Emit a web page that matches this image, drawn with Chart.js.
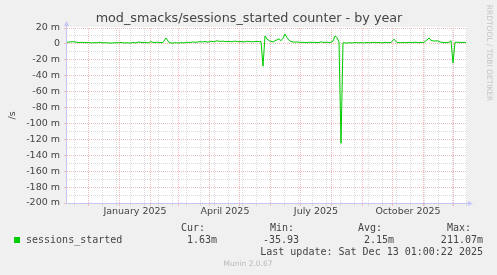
<!DOCTYPE html>
<html>
<head>
<meta charset="utf-8">
<script src="https://cdn.jsdelivr.net/npm/chart.js@4"></script>
<style>
    html, body { margin: 0; padding: 0; background: #f0f0f0; }
</style>
</head>
<body>
<canvas id="chart" width="497" height="275"></canvas>
<script>
// first day shown on the left edge of the graph
const startDate = '2024-11-10';

// day offsets from startDate, and the averaged rate in milli-sessions per second
const days = [0, 3, 6, 9, 12, 15, 18, 21, 24, 27, 30, 33, 36, 39, 42, 45, 48, 51, 54, 57,
    60, 63, 66, 69, 72, 75, 78, 81, 84, 87, 90, 93, 96, 99, 102, 105, 108, 111, 114, 117,
    120, 123, 126, 129, 132, 135, 138, 141, 144, 147, 150, 153, 156, 159, 162, 165, 168, 171, 174, 177,
    180, 183, 186, 189, 192, 194, 196, 198, 200, 203, 206, 209, 212, 214, 216, 218, 220, 222, 224, 227,
    230, 233, 236, 239, 242, 245, 248, 251, 254, 257, 260, 263, 266, 268, 270, 272, 274, 276, 279, 282,
    285, 288, 291, 294, 297, 300, 303, 306, 309, 312, 315, 318, 321, 324, 327, 330, 333, 336, 339, 342,
    345, 348, 351, 354, 357, 360, 362, 364, 367, 370, 373, 376, 379, 382, 384, 386, 388, 391, 394, 397, 399];
const values = [2.0, 2.5, 2.8, 2.2, 1.8, 2.0, 1.5, 1.8, 1.2, 1.6, 1.4, 2.0, 1.3, 1.5, 1.2, 1.0, 1.5, 1.4, 1.8, 1.2,
    1.5, 1.0, 1.8, 1.3, 2.5, 1.5, 2.0, 1.2, 2.8, 1.5, 2.2, 1.6, 1.8, 7.5, 1.8, 1.0, 1.4, 1.2, 1.6, 1.3,
    2.0, 1.8, 2.5, 2.0, 2.8, 2.5, 3.0, 2.2, 3.5, 2.6, 4.0, 3.0, 3.5, 2.8, 3.2, 2.6, 3.6, 2.8, 3.0, 2.5,
    3.4, 3.0, 2.6, 3.2, 2.8, 3.0, -28, 10, 6, 3.5, 2.5, 4.5, 6.5, 4.0, 7.0, 12.5, 8.0, 4.5, 3.0, 2.2,
    2.5, 1.8, 2.0, 1.5, 2.2, 1.8, 2.0, 1.6, 2.5, 1.8, 2.2, 1.5, 3.5, 10, 8, 2.0, -125, 1.5, 1.0, 1.5,
    1.2, 1.8, 1.3, 1.6, 1.2, 1.8, 1.4, 2.0, 1.5, 1.8, 1.3, 2.0, 1.5, 1.8, 6.0, 1.8, 1.4, 1.8, 1.5, 2.0,
    1.6, 2.2, 1.5, 1.8, 2.0, 5.0, 7.5, 4.5, 3.5, 4.0, 2.5, 1.8, 1.5, 2.0, 4.0, -24, 2.0, 2.2, 1.8, 2.0, 1.6];

// x axis: month boundaries (major grid), fortnight lines (minor grid) and labels
const monthStarts = ['2024-12-01', '2025-01-01', '2025-02-01', '2025-03-01', '2025-04-01', '2025-05-01',
    '2025-06-01', '2025-07-01', '2025-08-01', '2025-09-01', '2025-10-01', '2025-11-01', '2025-12-01'];
const fortnightStart = '2024-11-17';
const labelDates = ['2025-01-17', '2025-04-17', '2025-07-17', '2025-10-17'];
const labelTexts = ['January 2025', 'April 2025', 'July 2025', 'October 2025'];

// y axis, in m (milli)
const yMajorTicks = [20, 0, -20, -40, -60, -80, -100, -120, -140, -160, -180, -200];
const yMinorTicks = [10, -10, -30, -50, -70, -90, -110, -130, -150, -170, -190];

const title = 'mod_smacks/sessions_started counter - by year';
const legendName = 'sessions_started';
const legendHeads = ['Cur:', 'Min:', 'Avg:', 'Max:'];
const legendValues = ['1.63m', '-35.93', '2.15m', '211.07m'];
const lastUpdate = 'Last update: Sat Dec 13 01:00:22 2025';

const MAJOR = '#efbcbc';
const MINOR = '#dadada';
const AXIS = '#c6c6f6';
const TEXT = '#444';

const dayOf = s => {
    const [a, b] = [s, startDate].map(d => {
        const p = d.split('-').map(Number);
        return Date.UTC(p[0], p[1] - 1, p[2]);
    });
    return (a - b) / 86400000;
};
const span = 400;
const fortnights = [];
for (let d = dayOf(fortnightStart); d < span; d += 14) fortnights.push(d);

const gridAxis = (ticks, color) => ({
    type: 'linear',
    min: 0,
    max: span,
    position: 'bottom',
    afterFit: s => { s.height = 0; },
    afterBuildTicks: s => { s.ticks = ticks.map(v => ({ value: v })); },
    ticks: { display: false },
    grid: { color: color, tickColor: color, tickLength: 3 },
    border: { display: false, dash: [1, 1] }
});

const backdrop = {
    id: 'backdrop',
    beforeDraw(chart) {
        const { ctx, chartArea: a } = chart;
        ctx.save();
        ctx.fillStyle = '#f0f0f0';
        ctx.fillRect(0, 0, chart.width, chart.height);
        ctx.fillStyle = '#ffffff';
        ctx.fillRect(a.left, a.top - 1, a.right - a.left, a.bottom - a.top + 1);
        ctx.restore();
    }
};

const decorations = {
    id: 'decorations',
    afterDraw(chart) {
        const { ctx, chartArea: a } = chart;
        ctx.save();
        // axes with arrows
        ctx.strokeStyle = AXIS;
        ctx.fillStyle = AXIS;
        ctx.lineWidth = 1;
        ctx.beginPath();
        ctx.moveTo(a.left - 0.5, a.bottom + 0.5);
        ctx.lineTo(a.left - 0.5, a.top - 3);
        ctx.moveTo(a.left - 1, a.bottom + 0.5);
        ctx.lineTo(a.right + 3, a.bottom + 0.5);
        ctx.stroke();
        ctx.beginPath();
        ctx.moveTo(a.left - 3, a.top - 2);
        ctx.lineTo(a.left - 0.5, a.top - 7);
        ctx.lineTo(a.left + 2, a.top - 2);
        ctx.fill();
        ctx.beginPath();
        ctx.moveTo(a.right + 1, a.bottom - 2);
        ctx.lineTo(a.right + 6, a.bottom + 0.5);
        ctx.lineTo(a.right + 1, a.bottom + 3);
        ctx.fill();

        // title
        ctx.fillStyle = TEXT;
        ctx.textAlign = 'center';
        ctx.textBaseline = 'middle';
        ctx.font = '12.75px "DejaVu Sans"';
        ctx.fillText(title, 249, 19);

        // unit label
        ctx.font = '9.5px "DejaVu Sans"';
        ctx.save();
        ctx.translate(12.5, (a.top + a.bottom) / 2);
        ctx.rotate(-Math.PI / 2);
        ctx.fillText('/s', 0, 0);
        ctx.restore();

        // watermark on the right
        ctx.fillStyle = '#c4c4c4';
        ctx.font = '7.5px "DejaVu Sans"';
        ctx.save();
        ctx.translate(488.5, 53);
        ctx.rotate(Math.PI / 2);
        ctx.fillText('RRDTOOL / TOBI OETIKER', 0, 0);
        ctx.restore();

        // legend table
        ctx.fillStyle = '#00cc00';
        ctx.fillRect(14, 237, 6, 6);
        ctx.fillStyle = TEXT;
        ctx.font = '10px "DejaVu Sans Mono"';
        ctx.textAlign = 'left';
        ctx.fillText(legendName, 26, 240);
        const headX = [181, 270, 358, 447];
        const valueX = [217, 299, 394, 483];
        legendHeads.forEach((h, i) => ctx.fillText(h, headX[i], 228));
        ctx.textAlign = 'right';
        legendValues.forEach((v, i) => ctx.fillText(v, valueX[i], 240));
        ctx.fillText(lastUpdate, 483, 252);

        ctx.fillStyle = '#b8b8b8';
        ctx.font = '7.5px "DejaVu Sans"';
        ctx.textAlign = 'center';
        ctx.fillText('Munin 2.0.67', 248, 264);
        ctx.restore();
    }
};

new Chart(document.getElementById('chart'), {
    type: 'line',
    data: {
        datasets: [{
            label: legendName,
            data: days.map((d, i) => ({ x: d, y: values[i] })),
            borderColor: '#00cc00',
            borderWidth: 1,
            pointRadius: 0,
            tension: 0,
            fill: false,
            xAxisID: 'x',
            yAxisID: 'y'
        }]
    },
    options: {
        responsive: false,
        animation: false,
        events: [],
        layout: {
            padding: { left: 0, right: 30, top: 28, bottom: 52 }
        },
        plugins: {
            legend: { display: false },
            tooltip: { enabled: false }
        },
        scales: {
            xMinor: gridAxis(fortnights, MINOR),
            xMajor: gridAxis(monthStarts.map(dayOf), MAJOR),
            x: {
                type: 'linear',
                min: 0,
                max: span,
                position: 'bottom',
                afterFit: s => { s.height = 20; },
                afterBuildTicks: s => { s.ticks = labelDates.map(d => ({ value: dayOf(d) })); },
                ticks: {
                    autoSkip: false,
                    maxRotation: 0,
                    padding: 3,
                    color: TEXT,
                    font: { family: '"DejaVu Sans"', size: 9.5 },
                    callback: (v, i) => labelTexts[i]
                },
                grid: { display: false, drawTicks: false },
                border: { display: false }
            },
            y: {
                type: 'linear',
                min: -200,
                max: 20,
                position: 'left',
                afterFit: s => { s.width = 67; },
                afterBuildTicks: s => { s.ticks = yMajorTicks.map(v => ({ value: v })); },
                ticks: {
                    autoSkip: false,
                    padding: 4,
                    color: TEXT,
                    font: { family: '"DejaVu Sans"', size: 9.5 },
                    callback: v => v === 0 ? '0' : v + ' m'
                },
                grid: { color: MAJOR, tickColor: MAJOR, tickLength: 3 },
                border: { display: false, dash: [1, 1] }
            },
            yMinor: {
                type: 'linear',
                min: -200,
                max: 20,
                position: 'left',
                afterFit: s => { s.width = 0; },
                afterBuildTicks: s => { s.ticks = yMinorTicks.map(v => ({ value: v })); },
                ticks: { display: false },
                grid: { color: MINOR, drawTicks: false },
                border: { display: false, dash: [1, 1] }
            }
        }
    },
    plugins: [backdrop, decorations]
});
</script>
</body>
</html>
